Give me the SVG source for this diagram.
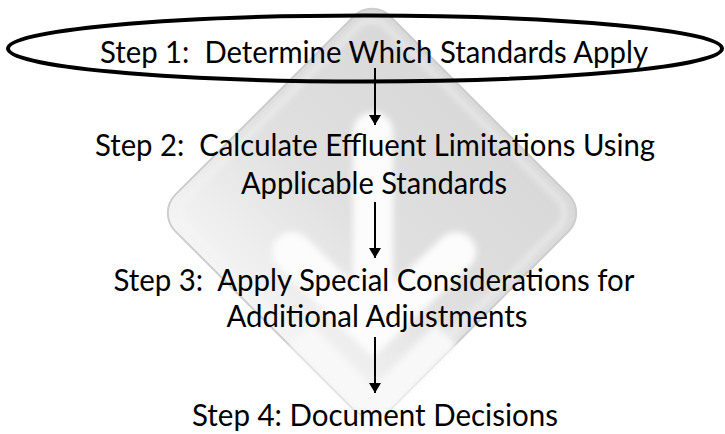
<svg xmlns="http://www.w3.org/2000/svg" width="725" height="434" viewBox="0 0 725 434">
<style>
.t{font-family:Lato,"Liberation Sans",sans-serif;font-size:30px;fill:#000;text-anchor:middle}
.c{stroke:#000;stroke-width:2;fill:none}
</style>
<defs>
<linearGradient id="dg" x1="0" y1="0" x2="0" y2="1">
<stop offset="0" stop-color="#d8d8d8"/>
<stop offset="0.55" stop-color="#e0e0e0"/>
<stop offset="1" stop-color="#f4f4f4"/>
</linearGradient>
<filter id="bl" x="-20%" y="-20%" width="140%" height="140%"><feGaussianBlur stdDeviation="3"/></filter>
<marker id="ah" viewBox="0 0 10 12" refX="10" refY="6" markerWidth="10" markerHeight="12" markerUnits="userSpaceOnUse" orient="auto">
<path d="M0,0 L10,6 L0,12 Z" fill="#000"/>
</marker>
</defs>
<rect width="725" height="434" fill="#fff"/>
<g id="watermark">
<rect x="-152" y="-152" width="304" height="304" rx="26" transform="translate(372,213) rotate(45)" fill="url(#dg)" stroke="#cdcdcd" stroke-width="2"/>
<rect x="-142" y="-142" width="284" height="284" rx="20" transform="translate(372,213) rotate(45)" fill="none" stroke="#f6f6f6" stroke-width="3" filter="url(#bl)"/>
<g stroke="#fcfcfc" stroke-width="40" stroke-linecap="round" fill="none" filter="url(#bl)">
<line x1="373" y1="132" x2="373" y2="305"/>
<path d="M292,252 L373,330 L456,252"/>
</g>
<path d="M300,335 L373,408 L446,335" fill="none" stroke="#f8f8f8" stroke-width="30" filter="url(#bl)"/>
</g>
<g id="connectors">
<line class="c" x1="375" y1="68" x2="375" y2="125" marker-end="url(#ah)"/>
<line class="c" x1="375" y1="202" x2="375" y2="258" marker-end="url(#ah)"/>
<line class="c" x1="375" y1="337" x2="375" y2="393" marker-end="url(#ah)"/>
</g>
<g id="step1">
<ellipse cx="365" cy="48.5" rx="357" ry="33" fill="none" stroke="#000" stroke-width="4"/>
<text class="t" x="374" y="63" textLength="548" lengthAdjust="spacingAndGlyphs" xml:space="preserve">Step 1:  Determine Which Standards Apply</text>
</g>
<g id="step2">
<text class="t" x="375" y="156" textLength="560" lengthAdjust="spacingAndGlyphs" xml:space="preserve">Step 2:  Calculate Effluent Limitations Using</text>
<text class="t" x="374" y="194" textLength="266" lengthAdjust="spacingAndGlyphs">Applicable Standards</text>
</g>
<g id="step3">
<text class="t" x="374" y="291" textLength="521" lengthAdjust="spacingAndGlyphs" xml:space="preserve">Step 3:  Apply Special Considerations for</text>
<text class="t" x="377" y="327" textLength="301" lengthAdjust="spacingAndGlyphs">Additional Adjustments</text>
</g>
<g id="step4">
<text class="t" x="375" y="426" textLength="366" lengthAdjust="spacingAndGlyphs">Step 4: Document Decisions</text>
</g>
</svg>
